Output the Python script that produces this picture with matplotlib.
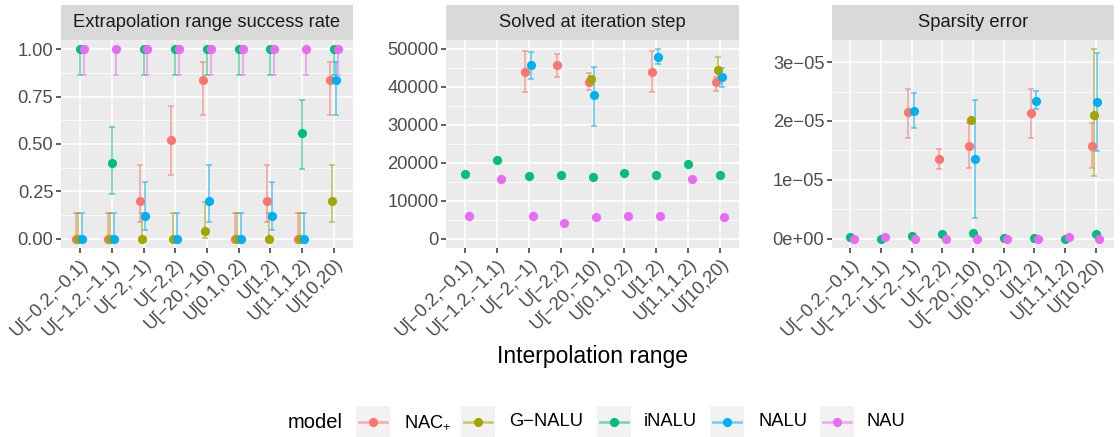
import numpy as np
import matplotlib
matplotlib.use("Agg")
import matplotlib.pyplot as plt
from matplotlib.ticker import FixedLocator, MultipleLocator, FuncFormatter
from matplotlib.patches import Rectangle
from matplotlib.lines import Line2D

plt.rcParams["font.family"] = ["Liberation Sans", "DejaVu Sans"]
plt.rcParams["mathtext.fontset"] = "custom"
plt.rcParams["mathtext.rm"] = "Liberation Sans"

nan = np.nan

ranges = ["U[−0.2,−0.1)", "U[−1.2,−1.1)", "U[−2,−1)", "U[−2,2)", "U[−20,−10)",
          "U[0.1,0.2)", "U[1,2)", "U[1.1,1.2)", "U[10,20)"]
models = ["NAC+", "G-NALU", "iNALU", "NALU", "NAU"]
model_labels = ["NAC$_{+}$", "G−NALU", "iNALU", "NALU", "NAU"]
colors = ["#F8766D", "#A3A500", "#00BF7D", "#00B0F6", "#E76BF3"]
panel_titles = ["Extrapolation range success rate", "Solved at iteration step", "Sparsity error"]

# --- extrapolation success rate ---
success_mean = {
    "NAC+":   [0, 0, 0.20, 0.52, 0.84, 0, 0.20, 0, 0.84],
    "G-NALU": [0, 0, 0, 0, 0.04, 0, 0, 0, 0.20],
    "iNALU":  [1, 0.40, 1, 1, 1, 1, 1, 0.56, 1],
    "NALU":   [0, 0, 0.12, 0, 0.20, 0, 0.12, 0, 0.84],
    "NAU":    [1, 1, 1, 1, 1, 1, 1, 1, 1],
}
success_lo = {
    "NAC+":   [0, 0, 0.09, 0.335, 0.655, 0, 0.09, 0, 0.655],
    "G-NALU": [0, 0, 0, 0, 0.005, 0, 0, 0, 0.09],
    "iNALU":  [0.865, 0.234, 0.865, 0.865, 0.865, 0.865, 0.865, 0.37, 0.865],
    "NALU":   [0, 0, 0.043, 0, 0.09, 0, 0.043, 0, 0.655],
    "NAU":    [0.865, 0.865, 0.865, 0.865, 0.865, 0.865, 0.865, 0.865, 0.865],
}
success_hi = {
    "NAC+":   [0.135, 0.135, 0.39, 0.70, 0.935, 0.135, 0.39, 0.135, 0.935],
    "G-NALU": [0.135, 0.135, 0.135, 0.135, 0.195, 0.135, 0.135, 0.135, 0.39],
    "iNALU":  [1, 0.59, 1, 1, 1, 1, 1, 0.735, 1],
    "NALU":   [0.135, 0.135, 0.30, 0.135, 0.39, 0.135, 0.30, 0.135, 0.935],
    "NAU":    [1, 1, 1, 1, 1, 1, 1, 1, 1],
}

# --- solved at iteration step ---
solved_mean = {
    "NAC+":   [nan, nan, 43800, 45750, 41250, nan, 43800, nan, 41350],
    "G-NALU": [nan, nan, nan, nan, 41900, nan, nan, nan, 44500],
    "iNALU":  [17000, 20700, 16550, 16800, 16200, 17150, 16750, 19750, 16800],
    "NALU":   [nan, nan, 45600, nan, 37800, nan, 47900, nan, 42650],
    "NAU":    [5930, 15700, 5930, 3980, 5700, 6020, 5850, 15700, 5750],
}
solved_lo = {
    "NAC+":   [nan, nan, 38500, 42650, 39100, nan, 38500, nan, 38950],
    "G-NALU": [nan, nan, nan, nan, nan, nan, nan, nan, 41400],
    "iNALU":  [nan] * 9,
    "NALU":   [nan, nan, 42100, nan, 29700, nan, 46000, nan, 39900],
    "NAU":    [nan] * 9,
}
solved_hi = {
    "NAC+":   [nan, nan, 49300, 48700, 43550, nan, 49300, nan, 42600],
    "G-NALU": [nan, nan, nan, nan, nan, nan, nan, nan, 47900],
    "iNALU":  [nan] * 9,
    "NALU":   [nan, nan, 49100, nan, 45300, nan, 49800, nan, 44950],
    "NAU":    [nan] * 9,
}

# --- sparsity error (units of 1e-5) ---
sparsity_mean = {
    "NAC+":   [nan, nan, 2.15, 1.355, 1.58, nan, 2.14, nan, 1.58],
    "G-NALU": [nan, nan, nan, nan, 2.025, nan, nan, nan, 2.105],
    "iNALU":  [0.023, 0.0, 0.05, 0.08, 0.086, 0.01, 0.006, 0.0, 0.074],
    "NALU":   [nan, nan, 2.17, nan, 1.35, nan, 2.335, nan, 2.32],
    "NAU":    [0, 0.03, 0, 0, 0, 0, 0, 0.034, 0],
}
sparsity_lo = {
    "NAC+":   [nan, nan, 1.715, 1.19, 1.20, nan, 1.715, nan, 1.20],
    "G-NALU": [nan, nan, nan, nan, nan, nan, nan, nan, 1.057],
    "iNALU":  [nan] * 9,
    "NALU":   [nan, nan, 1.886, nan, 0.354, nan, 2.20, nan, 1.49],
    "NAU":    [nan] * 9,
}
sparsity_hi = {
    "NAC+":   [nan, nan, 2.545, 1.525, 1.97, nan, 2.545, nan, 1.97],
    "G-NALU": [nan, nan, nan, nan, nan, nan, nan, nan, 3.217],
    "iNALU":  [nan] * 9,
    "NALU":   [nan, nan, 2.474, nan, 2.349, nan, 2.514, nan, 3.154],
    "NAU":    [nan] * 9,
}

W, H = 1120, 437
panel_px = [(61, 353), (446, 739), (832, 1114)]
top, bottom, strip_top = 40, 248, 5
dodge = [-0.12, -0.06, 0.0, 0.06, 0.12]
axis_txt = 13.2


def fmt_sci(v, pos):
    return f"{v:.0e}".replace("-", "−")


panels = [
    (success_mean, success_lo, success_hi, 1.0, [0, 0.25, 0.5, 0.75, 1.0], 0.125,
     FuncFormatter(lambda v, p: f"{v:.2f}"), False),
    (solved_mean, solved_lo, solved_hi, 1.0, list(range(0, 50001, 10000)), 5000,
     FuncFormatter(lambda v, p: f"{v:.0f}"), True),
    (sparsity_mean, sparsity_lo, sparsity_hi, 1e-5, [0, 1e-5, 2e-5, 3e-5], 0.5e-5,
     FuncFormatter(fmt_sci), False),
]

fig = plt.figure(figsize=(W / 100, H / 100), dpi=100)
x = np.arange(len(ranges))

for i, (mean, lo, hi, scale, yticks, minor, formatter, with_zero) in enumerate(panels):
    x0, x1 = panel_px[i]
    ax = fig.add_axes([x0 / W, 1 - bottom / H, (x1 - x0) / W, (bottom - top) / H])
    ax.set_facecolor("#EBEBEB")
    for s in ax.spines.values():
        s.set_visible(False)

    allv = []
    for m, c, d in zip(models, colors, dodge):
        mv = np.array(mean[m], dtype=float) * scale
        lv = np.array(lo[m], dtype=float) * scale
        hv = np.array(hi[m], dtype=float) * scale
        allv += list(mv) + list(lv) + list(hv)
        ok = ~np.isnan(lv) & ~np.isnan(mv)
        if ok.any():
            ax.errorbar(x[ok] + d, mv[ok], yerr=[mv[ok] - lv[ok], hv[ok] - mv[ok]],
                        fmt="none", ecolor=c, alpha=0.5, elinewidth=1.4,
                        capsize=1.9, capthick=1.4, zorder=2)
    for m, c, d in zip(models, colors, dodge):
        mv = np.array(mean[m], dtype=float) * scale
        ax.plot(x + d, mv, "o", ms=6.6, color=c, mec="none", zorder=3)

    allv = np.array(allv)
    ymin, ymax = np.nanmin(allv), np.nanmax(allv)
    if with_zero:
        ymin = min(ymin, 0)
    r = ymax - ymin
    ax.set_ylim(ymin - 0.05 * r, ymax + 0.05 * r)
    ax.set_xlim(-0.6, len(ranges) - 0.4)

    ax.set_axisbelow(True)
    ax.yaxis.set_major_locator(FixedLocator(yticks))
    ax.yaxis.set_major_formatter(formatter)
    ax.yaxis.set_minor_locator(MultipleLocator(minor))
    ax.set_xticks(x)
    ax.set_xticklabels(ranges, rotation=45, ha="right", va="top",
                       rotation_mode="anchor")
    ax.grid(which="major", color="white", lw=1.1)
    ax.grid(which="minor", axis="y", color="white", lw=0.55)
    ax.tick_params(which="major", length=3.5, width=1.1, color="#333333",
                   labelsize=axis_txt, labelcolor="#4D4D4D", pad=2)
    ax.tick_params(which="minor", length=0)

    sax = fig.add_axes([x0 / W, 1 - top / H, (x1 - x0) / W, (top - strip_top) / H])
    sax.set_facecolor("#D9D9D9")
    sax.set_xticks([])
    sax.set_yticks([])
    for s in sax.spines.values():
        s.set_visible(False)
    sax.text(0.5, 0.5, panel_titles[i], ha="center", va="center",
             fontsize=axis_txt, color="#1A1A1A", transform=sax.transAxes)

fig.text(592.5 / W, 1 - 357 / H, "Interpolation range", ha="center", va="center",
         fontsize=16.5, color="black")

# legend at the bottom
leg_y = 422
fig.text(343 / W, 1 - leg_y / H, "model", ha="right", va="center", fontsize=14.5)
key_x = [356, 461, 597, 710, 820]
txt_x = [404, 509, 644, 758, 866]
kw, kh = 34, 32
for lab, c, kx, tx in zip(model_labels, colors, key_x, txt_x):
    fig.patches.append(Rectangle((kx / W, 1 - (leg_y + kh / 2) / H), kw / W, kh / H,
                                 transform=fig.transFigure, facecolor="#F2F2F2",
                                 edgecolor="none"))
    fig.lines.append(Line2D([(kx + 3) / W, (kx + kw - 3) / W], [1 - leg_y / H] * 2,
                            transform=fig.transFigure, color=c, alpha=0.5, lw=2))
    fig.lines.append(Line2D([(kx + kw / 2) / W], [1 - leg_y / H], marker="o", ms=6.6,
                            color=c, mec="none", transform=fig.transFigure))
    fig.text(tx / W, 1 - leg_y / H, lab, ha="left", va="center", fontsize=axis_txt)

fig.savefig("out.png", dpi=100)
